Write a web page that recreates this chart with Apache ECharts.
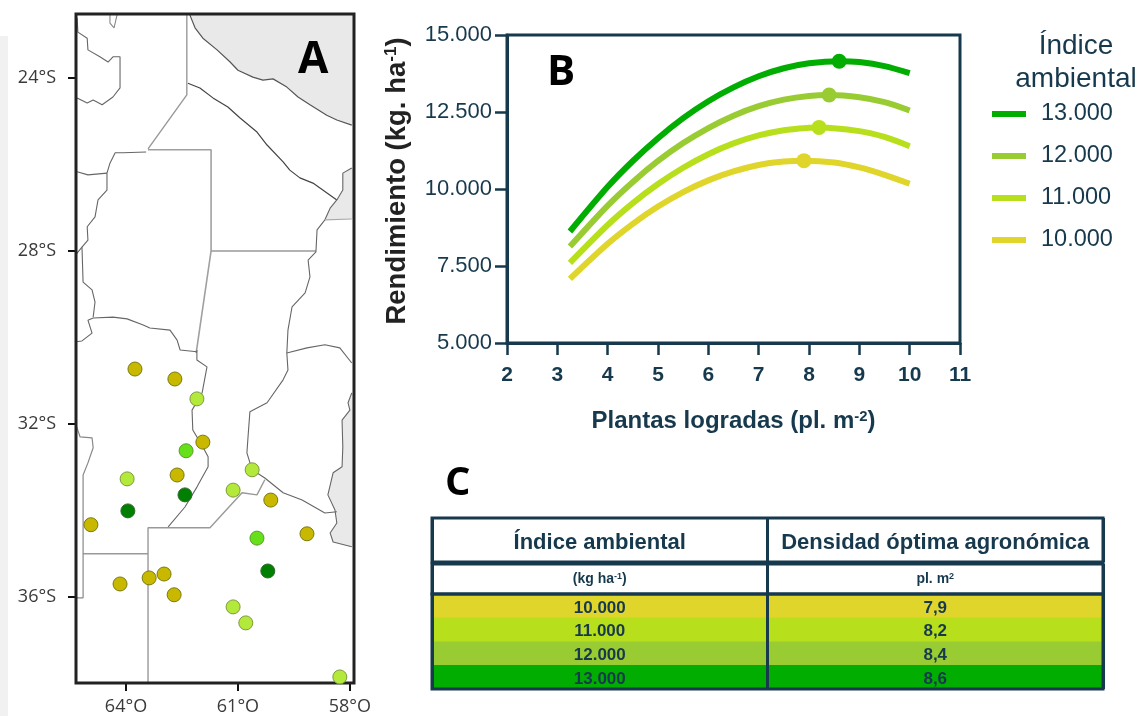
<!DOCTYPE html>
<html>
<head>
<meta charset="utf-8">
<style>html,body{margin:0;padding:0;background:#fff}#c{width:1138px;height:716px}</style>
<script src="https://cdn.jsdelivr.net/npm/echarts@6/dist/echarts.min.js"></script>
</head>
<body>
<div id="c"></div>
<script>
// ---- Panel A: map data, [longitude, latitude] in degrees ----
const limiteNorte = [[-62.29,-22.54],[-62.15,-22.84],[-61.94,-23.08],[-61.56,-23.35],[-61.21,-23.63],[-61.00,-23.82],[-60.60,-23.98],[-60.33,-24.05],[-60.06,-24.02],[-59.69,-24.21],[-59.39,-24.44],[-59.07,-24.62],[-58.62,-24.86],[-58.35,-24.97],[-57.95,-25.09]];
const esquinaNorte = [[-57.89,-25.1],[-57.89,-22.52],[-62.29,-22.52]];
const rioBermejo = [[-62.34,-24.12],[-62.02,-24.23],[-61.67,-24.46],[-61.27,-24.67],[-60.95,-24.92],[-60.49,-25.25],[-60.22,-25.55],[-59.79,-25.94],[-59.61,-26.13],[-59.34,-26.31],[-58.99,-26.43],[-58.35,-26.82]];
const limiteSaltaChaco = [[-62.37,-22.54],[-62.37,-24.39],[-63.41,-25.64]];
const limiteSantiago = [[-63.41,-25.66],[-61.72,-25.66],[-61.72,-28.00],[-62.12,-30.36]];
const limiteChacoSantaFe = [[-61.72,-28.00],[-58.91,-28.00]];
const limiteOesteNorte = [[-63.46,-25.71],[-64.08,-25.73],[-64.29,-25.73],[-64.43,-25.97],[-64.51,-26.20],[-64.51,-26.59],[-64.75,-26.82],[-64.83,-27.21],[-65.04,-27.44],[-65.02,-27.75],[-65.18,-27.91],[-65.15,-28.72],[-64.91,-28.90],[-64.83,-29.18],[-64.88,-29.53]];
const limiteCordobaNorte = [[-65.34,-30.10],[-65.18,-30.08],[-64.91,-29.90],[-65.02,-29.60],[-64.88,-29.55],[-64.35,-29.53],[-63.97,-29.57],[-63.54,-29.71],[-63.36,-29.78],[-62.82,-29.83],[-62.63,-30.06],[-62.55,-30.29],[-62.10,-30.33]];
const limiteCordobaEste = [[-62.10,-30.29],[-62.10,-30.52],[-61.83,-30.68],[-61.96,-31.28],[-62.23,-31.68],[-62.21,-32.14],[-61.94,-32.53],[-61.80,-32.76],[-61.80,-32.99],[-62.10,-33.46],[-62.42,-33.92],[-62.87,-34.38]];
const limiteBuenosAires = [[-63.41,-37.99],[-63.41,-34.40],[-61.75,-34.40],[-60.89,-33.59],[-60.49,-33.64],[-60.28,-33.29]];
const limiteLaPampa = [[-65.15,-35.00],[-63.41,-35.00]];
const limiteSanLuis = [[-65.34,-32.02],[-65.23,-32.30],[-64.91,-32.32],[-64.88,-32.55],[-65.02,-32.90],[-65.15,-33.18],[-65.15,-36.02],[-65.34,-36.02]];
const rioParana = [[-57.95,-26.08],[-58.19,-26.20],[-58.19,-26.59],[-58.35,-26.82],[-58.53,-27.01],[-58.67,-27.28],[-58.88,-27.51],[-58.91,-28.02],[-59.12,-28.21],[-59.07,-28.60],[-59.20,-28.97],[-59.55,-29.29],[-59.66,-29.83],[-59.69,-30.36],[-59.66,-30.75],[-59.79,-30.98],[-60.22,-31.51],[-60.68,-31.72],[-60.73,-32.30],[-60.76,-32.67],[-60.62,-33.06],[-60.28,-33.25],[-59.79,-33.59],[-59.28,-33.76],[-58.67,-34.06],[-58.35,-34.03]];
const limiteParaguay = [[-58.67,-27.28],[-57.95,-27.26]];
const limiteCorrientes = [[-59.69,-30.36],[-59.15,-30.24],[-58.67,-30.17],[-58.27,-30.24],[-57.95,-30.59]];
const costaUruguay = [[-57.95,-31.28],[-58.05,-31.51],[-58.00,-31.68],[-58.21,-31.91],[-58.19,-32.53],[-58.21,-32.99],[-58.45,-33.13],[-58.59,-33.64],[-58.40,-33.99],[-58.35,-34.29],[-58.53,-34.52],[-58.45,-34.73],[-57.95,-34.84]];
const limiteJujuy = [[-65.31,-22.61],[-65.29,-22.94],[-65.04,-23.08],[-65.02,-23.35],[-64.70,-23.51],[-64.48,-23.63],[-64.35,-23.51],[-64.16,-23.51],[-64.16,-24.23],[-64.35,-24.44],[-64.64,-24.62],[-64.88,-24.51],[-65.04,-24.58],[-65.31,-24.46]];
const limiteTopo = [[-64.43,-22.54],[-64.43,-22.73],[-64.32,-22.84],[-64.24,-22.54]];
const limiteTucuman = [[-65.31,-26.17],[-65.02,-26.24],[-64.51,-26.20]];
const limiteSanLuisNorte = [[-65.34,-28.08],[-65.18,-27.91]];

const sitios10000 = [[-63.76,-30.73],[-62.69,-30.96],[-61.94,-32.42],[-62.63,-33.18],[-64.94,-34.33],[-60.12,-33.76],[-59.15,-34.54],[-63.38,-35.56],[-62.98,-35.47],[-64.16,-35.70],[-62.71,-35.95]];
const sitios11000 = [[-62.10,-31.42],[-63.97,-33.27],[-60.62,-33.06],[-61.13,-33.53],[-61.13,-36.23],[-60.79,-36.60],[-58.27,-37.85]];
const sitios12000 = [[-62.39,-32.62],[-60.49,-34.64]];
const sitios13000 = [[-62.42,-33.64],[-63.95,-34.01],[-60.20,-35.40]];
const marcasLat = [-24,-28,-32,-36];
const marcasLon = [-64,-61,-58];

// ---- Panel B: yield curves ----
const plantas13000 = [3.25,4,4.5,5,5.5,6,6.5,7,7.5,8,8.6,9,9.5,10];
const rinde13000  = [8620,10070,10910,11650,12300,12850,13300,13660,13920,14080,14150,14120,13990,13760];
const plantas12000 = [3.25,4,4.5,5,5.5,6,6.5,7,7.5,8,8.4,9,9.5,10];
const rinde12000  = [8130,9460,10230,10910,11490,11980,12380,12690,12900,13020,13050,12980,12820,12550];
const plantas11000 = [3.25,4,4.5,5,5.5,6,6.5,7,7.5,8,8.2,9,9.5,10];
const rinde11000  = [7600,8830,9540,10160,10690,11130,11480,11740,11910,11990,12000,11880,11690,11390];
const plantas10000 = [3.25,4,4.5,5,5.5,6,6.5,7,7.5,7.9,8.5,9,9.5,10];
const rinde10000  = [7080,8220,8870,9430,9900,10280,10570,10780,10890,10920,10860,10700,10460,10170];
const optimoDensidad = [8.6,8.4,8.2,7.9];
const optimoRinde = [14150,13050,12000,10920];
const nombresIndice = ['13.000','12.000','11.000','10.000'];

// ---- Panel C: table ----
const columnasTabla = ['Índice ambiental','Densidad óptima agronómica'];
const unidadesTabla = ['{a|(kg ha}{s|-1}{a|)}','{a|pl. m}{s|2}'];
const filasIndice = ['10.000','11.000','12.000','13.000'];
const filasDensidad = ['7,9','8,2','8,4','8,6'];

const azul = '#17394d';
const cVerde = '#00ad00', cOliva = '#99cc33', cLima = '#b7df1c', cAmar = '#e0d52b';
const colorFila = [cAmar, cLima, cOliva, cVerde];
const F = '"Liberation Sans", Arial, sans-serif';

function bordes(d, color, w){
  return {type:'line',xAxisIndex:0,yAxisIndex:0,data:d,showSymbol:false,silent:true,clip:true,z:3,
    lineStyle:{color:color,width:w},animation:false};
}
function poligono(pts){
  return {type:'custom',xAxisIndex:0,yAxisIndex:0,silent:true,z:1,clip:true,data:[[pts[0][0],pts[0][1]]],
    encode:{x:0,y:1},animation:false,
    renderItem:(p,api)=>({type:'polygon',shape:{points:pts.map(q=>api.coord(q))},style:{fill:'#e9e9e9'}})};
}
function sitios(d,c,b){
  return {type:'scatter',xAxisIndex:0,yAxisIndex:0,data:d,symbolSize:14,clip:false,z:5,silent:true,
    itemStyle:{color:c,borderColor:b,borderWidth:1,opacity:1},animation:false};
}
function curva(name,x,y,c){
  return {name:name,type:'line',xAxisIndex:1,yAxisIndex:1,data:x.map((v,i)=>[v,y[i]]),smooth:0.3,showSymbol:false,
    z:3,lineStyle:{color:c,width:6,cap:'butt'},itemStyle:{color:c},animation:false,silent:true};
}
const colorOptimo = [cVerde,cOliva,cLima,cAmar];

function celdas(textos, est, estilo, dy){
  const out = [];
  textos.forEach((col,c)=>col.forEach((t,r)=>{
    out.push({value:[c,r,1],itemStyle:{color:est(r)},label:{show:true,offset:[0,dy],formatter:t,rich:estilo}});
  }));
  return out;
}
const marcar = t=>'{a|'+t+'}';
const richSub = {a:{fontFamily:F,fontWeight:'bold',fontSize:14,color:azul},s:{fontFamily:F,fontWeight:'bold',fontSize:9,color:azul,verticalAlign:'top',padding:[0,0,4,0]}};
const richHead = {a:{fontFamily:F,fontWeight:'bold',fontSize:22,color:azul}};
const richBody = {a:{fontFamily:F,fontWeight:'bold',fontSize:17,color:azul}};

function tablaGrid(top,h){return {left:432,width:671,top:top,height:h,show:true,borderColor:azul,borderWidth:3,backgroundColor:'transparent',z:4};}
function tablaX(g){return {gridIndex:g,type:'category',data:columnasTabla,z:5,axisLine:{show:false},axisTick:{show:false},axisLabel:{show:false},
  splitLine:{show:true,lineStyle:{color:azul,width:3}}};}
function tablaY(g,d){return {gridIndex:g,type:'category',data:d,inverse:true,axisLine:{show:false},axisTick:{show:false},axisLabel:{show:false},splitLine:{show:false}};}
function tablaSerie(g,data){return {type:'heatmap',xAxisIndex:g,yAxisIndex:g,data:data,silent:true,z:2,animation:false,emphasis:{disabled:true}};}

const mapLabel = {fontFamily:'"Open Sans", sans-serif',fontSize:18,color:'#3a3a3a'};
const supAx = (c,fs)=>({a:{fontFamily:F,fontWeight:'bold',fontSize:fs,color:c},s:{fontFamily:F,fontWeight:'bold',fontSize:fs*0.62,color:c,verticalAlign:'top',padding:[0,0,6,0]}});

const option = {
  backgroundColor:'#fff',
  animation:false,
  title:[
    {text:'A',left:293,top:33,textStyle:{fontFamily:'"Open Sans"',fontWeight:700,fontSize:44,color:'#000'}},
    {text:'B',left:542,top:47,textStyle:{fontFamily:'"Open Sans"',fontWeight:700,fontSize:42,color:'#000'}},
    {text:'C',left:440,top:459,textStyle:{fontFamily:'"Open Sans"',fontWeight:700,fontSize:40,color:'#000'}},
    {text:'Índice',left:1071,top:27,textAlign:'center',textStyle:{fontFamily:F,fontWeight:'normal',fontSize:28,color:azul}},
    {text:'ambiental',left:1071,top:60,textAlign:'center',textStyle:{fontFamily:F,fontWeight:'normal',fontSize:28,color:azul}}
  ],
  legend:{left:992,top:102,padding:0,orient:'vertical',icon:'rect',itemWidth:34,itemHeight:6,itemGap:18,data:nombresIndice,selectedMode:false,
    textStyle:{fontFamily:F,fontSize:23.5,color:azul,padding:[0,0,0,10]}},
  graphic:[{type:'rect',left:0,top:36,shape:{width:8,height:680},style:{fill:'#f1f1f1'},silent:true}],
  grid:[
    {left:76,width:278,top:14,height:669,show:true,borderColor:'#222',borderWidth:3,backgroundColor:'transparent',z:4},
    {left:507,width:453,top:35,height:308,show:true,borderColor:azul,borderWidth:3,backgroundColor:'transparent'},
    tablaGrid(518,44),tablaGrid(564,30),tablaGrid(594,95)
  ],
  xAxis:[
    {gridIndex:0,type:'value',min:-65.34,max:-57.89,splitLine:{show:false},axisLine:{show:false},
      axisTick:{show:true,length:8,customValues:marcasLon,lineStyle:{color:'#111',width:2}},
      axisLabel:{show:true,customValues:marcasLon,margin:15,formatter:v=>Math.abs(v)+'°O',...mapLabel}},
    {gridIndex:1,type:'value',min:2,max:11,interval:1,splitLine:{show:false},
      axisLine:{show:true,lineStyle:{color:azul,width:3}},axisTick:{show:true,length:12,lineStyle:{color:azul,width:2.5}},
      axisLabel:{margin:22,fontFamily:F,fontWeight:'bold',fontSize:21,color:azul},
      name:'{a|Plantas logradas (pl. m}{s|-2}{a|)}',nameLocation:'middle',nameGap:66,nameTextStyle:{rich:supAx(azul,24)}},
    tablaX(2),tablaX(3),tablaX(4)
  ],
  yAxis:[
    {gridIndex:0,type:'value',min:-37.99,max:-22.52,splitLine:{show:false},axisLine:{show:false},
      axisTick:{show:true,length:8,customValues:marcasLat,lineStyle:{color:'#111',width:2}},
      axisLabel:{show:true,customValues:marcasLat,margin:20,formatter:v=>Math.abs(v)+'°S',...mapLabel}},
    {gridIndex:1,type:'value',min:5000,max:15000,interval:2500,splitLine:{show:false},
      axisLine:{show:true,lineStyle:{color:azul,width:3}},axisTick:{show:true,length:12,lineStyle:{color:azul,width:2.5}},
      axisLabel:{margin:15,fontFamily:F,fontSize:22,color:azul,formatter:v=>String(v).replace(/(\d)(\d{3})$/,'$1.$2')},
      name:'{a|Rendimiento (kg. ha}{s|-1}{a|)}',nameLocation:'middle',nameGap:96,nameRotate:90,
      nameTextStyle:{padding:[0,0,0,16],rich:supAx('#222',27.5)}},
    tablaY(2,['h']),tablaY(3,['u']),tablaY(4,filasIndice)
  ],
  series:[
    poligono(limiteNorte.concat(esquinaNorte)),
    poligono(rioParana.slice(0,6).concat([[-57.89,-27.26],[-57.89,-26.08]])),
    poligono(costaUruguay.concat([[-57.89,-34.85],[-57.89,-31.28]])),
    bordes(limiteNorte,'#555',1.2),bordes(rioBermejo,'#444',1.2),
    bordes(limiteSaltaChaco,'#999',1.4),bordes(limiteSantiago,'#a0a0a0',1.6),bordes(limiteChacoSantaFe,'#999',1.5),
    bordes(limiteOesteNorte,'#666',1.1),bordes(limiteCordobaNorte,'#666',1.1),bordes(limiteCordobaEste,'#666',1.1),
    bordes(limiteBuenosAires,'#999',1.4),bordes(limiteLaPampa,'#999',1.4),bordes(limiteSanLuis,'#888',1.2),
    bordes(rioParana,'#666',1.1),bordes(limiteParaguay,'#aaa',1.1),bordes(limiteCorrientes,'#666',1.1),
    bordes(costaUruguay,'#666',1.1),bordes(limiteJujuy,'#666',1.1),bordes(limiteTopo,'#888',1.1),
    bordes(limiteTucuman,'#666',1.1),bordes(limiteSanLuisNorte,'#666',1.1),
    sitios(sitios10000,'#c9b800','#7a7a10'),sitios(sitios11000,'#b2e93a','#7f9a3a'),sitios(sitios12000,'#66e01a','#5d9a2a'),sitios(sitios13000,'#007f00','#2f6a2f'),

    curva('13.000',plantas13000,rinde13000,cVerde),
    curva('12.000',plantas12000,rinde12000,cOliva),
    curva('11.000',plantas11000,rinde11000,cLima),
    curva('10.000',plantas10000,rinde10000,cAmar),
    {type:'scatter',xAxisIndex:1,yAxisIndex:1,symbolSize:15,z:4,silent:true,animation:false,
      data:optimoDensidad.map((d,i)=>({value:[d,optimoRinde[i]],itemStyle:{color:colorOptimo[i],opacity:1}}))},

    tablaSerie(2,celdas(columnasTabla.map(t=>[marcar(t)]),()=>'#fff',richHead,3)),
    tablaSerie(3,celdas(unidadesTabla.map(t=>[t]),()=>'#fff',richSub,0)),
    tablaSerie(4,celdas([filasIndice.map(marcar),filasDensidad.map(marcar)],r=>colorFila[r],richBody,2))
  ]
};
echarts.init(document.getElementById('c'),null,{renderer:'canvas'}).setOption(option);
</script>
</body>
</html>
